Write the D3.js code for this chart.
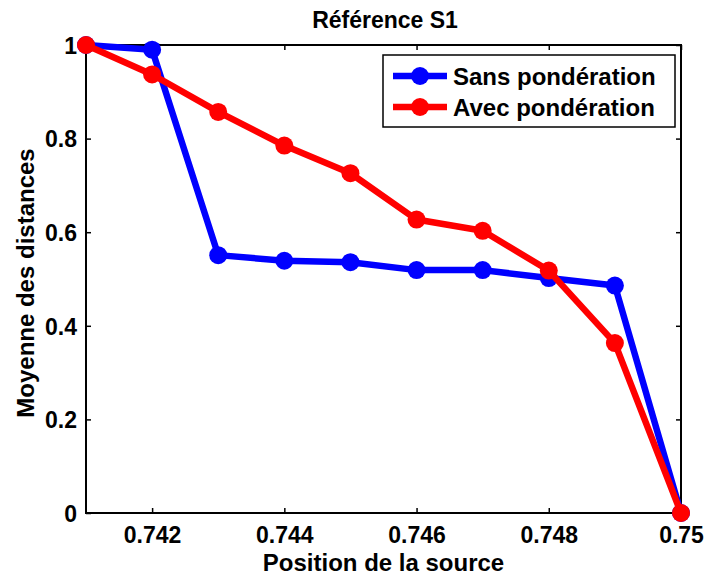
<!DOCTYPE html>
<html><head><meta charset="utf-8">
<script src="https://cdn.jsdelivr.net/npm/d3@7"></script>
<style>body{margin:0;background:#fff}svg{display:block}text{font-family:"Liberation Sans",Arial,sans-serif;font-weight:bold;fill:#000}</style>
</head><body>
<script>
const positions = [0.741,0.742,0.743,0.744,0.745,0.746,0.747,0.748,0.749,0.750];
const sansPonderation = [1.0,0.990,0.551,0.539,0.536,0.519,0.519,0.502,0.486,0.0];
const avecPonderation = [1.0,0.937,0.857,0.785,0.726,0.627,0.603,0.518,0.363,0.0];
const xTicks = [0.742,0.744,0.746,0.748,0.750];
const xTickLabels = ["0.742","0.744","0.746","0.748","0.75"];
const yTicks = [0,0.2,0.4,0.6,0.8,1];
const yTickLabels = ["0","0.2","0.4","0.6","0.8","1"];
const seriesNames = ["Sans pondération","Avec pondération"];
const seriesColors = ["#0000ff","#ff0000"];

const W=709,H=577;
const svg=d3.select("body").append("svg").attr("width",W).attr("height",H);
const L=86,R=681,T=45,B=513;
const x=d3.scaleLinear().domain([0.741,0.750]).range([L,R]);
const y=d3.scaleLinear().domain([0,1]).range([B,T]);

svg.append("rect").attr("x",L).attr("y",T).attr("width",R-L).attr("height",B-T)
  .attr("fill","none").attr("stroke","#000").attr("stroke-width",2);

const tl=5;
const fmtX=d=>xTickLabels[xTicks.indexOf(d)];
const fmtY=d=>yTickLabels[yTicks.indexOf(d)];
const gB=svg.append("g").attr("transform",`translate(0,${B})`).call(d3.axisBottom(x).tickValues(xTicks).tickFormat(fmtX).tickSizeInner(-tl).tickSizeOuter(0).tickPadding(14));
const gT=svg.append("g").attr("transform",`translate(0,${T})`).call(d3.axisTop(x).tickValues(xTicks).tickFormat("").tickSizeInner(-tl).tickSizeOuter(0));
const gL=svg.append("g").attr("transform",`translate(${L},0)`).call(d3.axisLeft(y).tickValues(yTicks).tickFormat(fmtY).tickSizeInner(-tl).tickSizeOuter(0).tickPadding(9));
const gR=svg.append("g").attr("transform",`translate(${R},0)`).call(d3.axisRight(y).tickValues(yTicks).tickFormat("").tickSizeInner(-tl).tickSizeOuter(0));
[gB,gT,gL,gR].forEach(g=>{g.select(".domain").remove();g.selectAll("line").attr("stroke","#000").attr("stroke-width",1.5);
  g.selectAll("text").style("font-size","23px").style("font-family","'Liberation Sans',Arial,sans-serif").style("font-weight","bold").attr("fill","#000");});
gL.selectAll("text").attr("dy","0.36em");

const line=d3.line().x((d,i)=>x(positions[i])).y(d=>y(d));
[sansPonderation,avecPonderation].forEach((s,k)=>{
  svg.append("path").datum(s).attr("d",line).attr("fill","none").attr("stroke",seriesColors[k]).attr("stroke-width",6.5).attr("stroke-linejoin","round");
  svg.selectAll(null).data(s).enter().append("circle").attr("cx",(d,i)=>x(positions[i])).attr("cy",d=>y(d)).attr("r",9).attr("fill",seriesColors[k]);
});

svg.append("text").attr("x",385).attr("y",28).attr("text-anchor","middle").style("font-size","23px").text("Référence S1");
svg.append("text").attr("x",(L+R)/2).attr("y",571).attr("text-anchor","middle").style("font-size","24px").text("Position de la source");
svg.append("text").attr("transform","translate(34,283) rotate(-90)").attr("text-anchor","middle").style("font-size","24px").text("Moyenne des distances");

const lg=svg.append("g");
lg.append("rect").attr("x",383).attr("y",55).attr("width",292).attr("height",72).attr("fill","#fff").attr("stroke","#000").attr("stroke-width",1.5);
seriesNames.forEach((n,k)=>{
  const cy=76+k*31;
  lg.append("line").attr("x1",393).attr("x2",447).attr("y1",cy).attr("y2",cy).attr("stroke",seriesColors[k]).attr("stroke-width",6.5);
  lg.append("circle").attr("cx",420).attr("cy",cy).attr("r",9).attr("fill",seriesColors[k]);
  lg.append("text").attr("x",453).attr("y",cy+8.5).style("font-size","24px").text(n);
});
</script>
</body></html>
